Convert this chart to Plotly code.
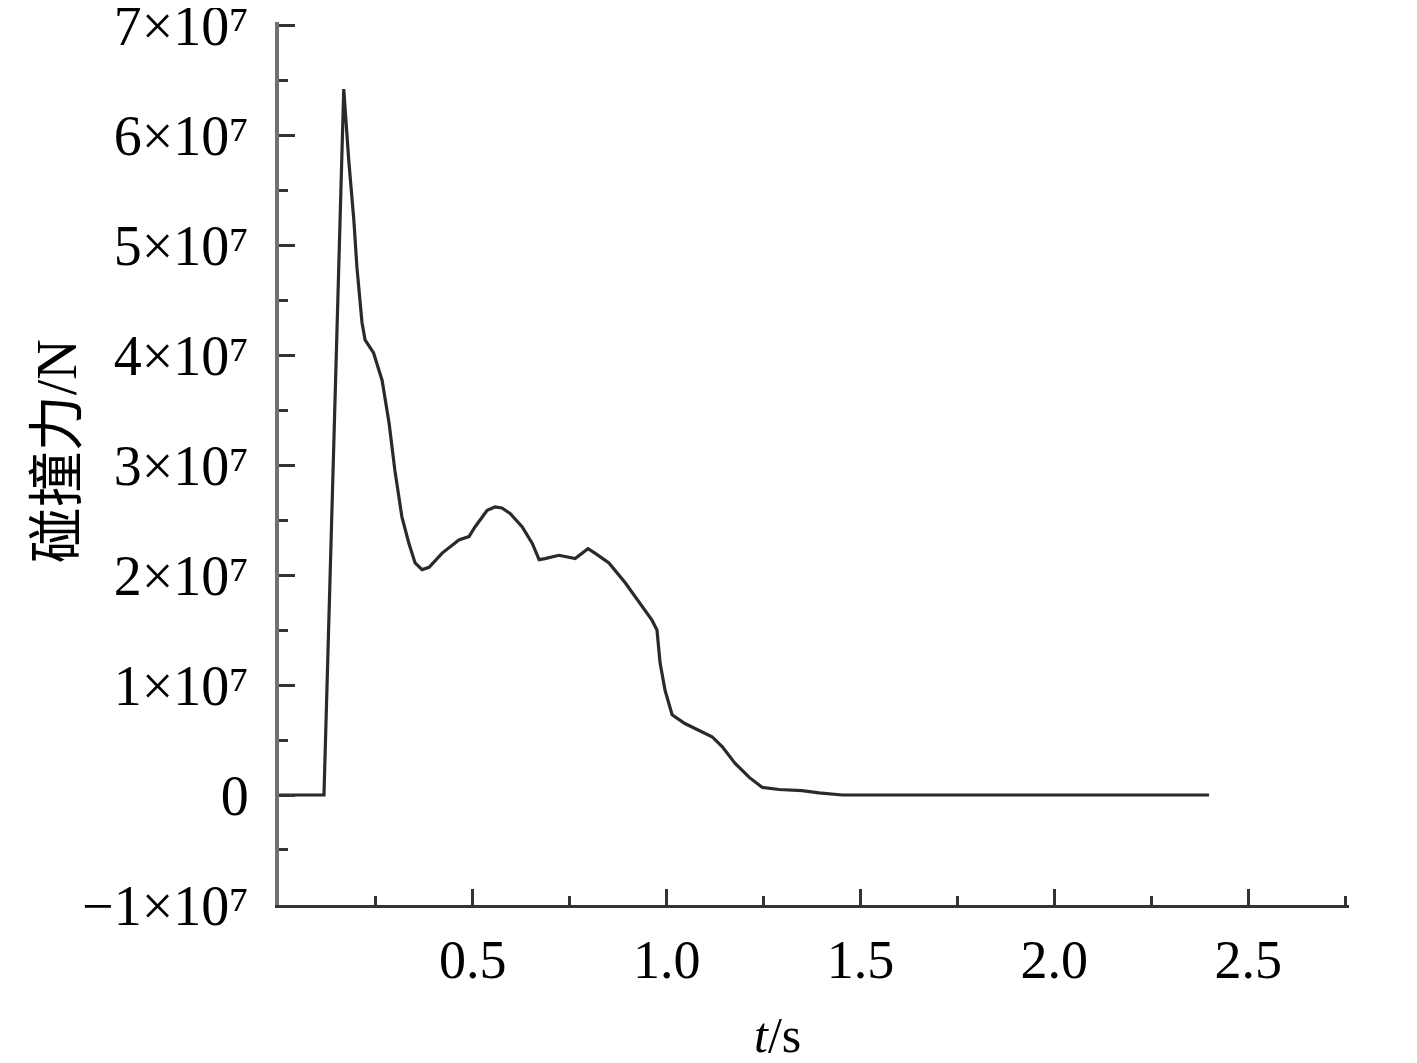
import plotly.graph_objects as go

# time (s) and collision force (N)
t = [0.0, 0.116, 0.167, 0.180, 0.193, 0.201, 0.214, 0.222, 0.244, 0.266, 0.284,
     0.299, 0.317, 0.335, 0.351, 0.369, 0.387, 0.421, 0.464, 0.490, 0.506, 0.537,
     0.557, 0.575, 0.596, 0.627, 0.653, 0.671, 0.686, 0.722, 0.764, 0.797, 0.815,
     0.851, 0.893, 0.937, 0.962, 0.975, 0.983, 0.996, 1.014, 1.047, 1.091, 1.117,
     1.143, 1.176, 1.213, 1.246, 1.290, 1.349, 1.393, 1.453, 2.399]
force_e7 = [0.0, 0.0, 6.42, 5.77, 5.23, 4.80, 4.30, 4.14, 4.02, 3.77, 3.38,
            2.95, 2.53, 2.29, 2.11, 2.05, 2.07, 2.20, 2.32, 2.35, 2.44, 2.59,
            2.62, 2.61, 2.56, 2.44, 2.29, 2.14, 2.15, 2.18, 2.15, 2.24, 2.20,
            2.11, 1.93, 1.71, 1.59, 1.50, 1.20, 0.95, 0.73, 0.65, 0.57, 0.53,
            0.44, 0.29, 0.16, 0.07, 0.05, 0.04, 0.02, 0.0, 0.0]
force = [v * 1e7 for v in force_e7]

x_tickvals = [0.5, 1.0, 1.5, 2.0, 2.5]
x_ticktext = ["0.5", "1.0", "1.5", "2.0", "2.5"]
x_minor = [0.25, 0.75, 1.25, 1.75, 2.25, 2.75]
y_tickvals = [-1e7, 0, 1e7, 2e7, 3e7, 4e7, 5e7, 6e7, 7e7]
y_ticktext = ["\u22121\u00d710\u2077", "0", "1\u00d710\u2077", "2\u00d710\u2077",
              "3\u00d710\u2077", "4\u00d710\u2077", "5\u00d710\u2077",
              "6\u00d710\u2077", "7\u00d710\u2077"]
y_minor = [-0.5e7, 0.5e7, 1.5e7, 2.5e7, 3.5e7, 4.5e7, 5.5e7, 6.5e7]

serif = "Liberation Serif, Times New Roman, serif"

fig = go.Figure()
fig.add_trace(go.Scatter(x=t, y=force, mode="lines",
                         line=dict(color="#2a2a2a", width=3.2), showlegend=False))

fig.update_layout(
    width=1417, height=1063,
    margin=dict(l=271, r=76, t=14, b=166, autoexpand=False),
    paper_bgcolor="white", plot_bgcolor="white",
    font=dict(family=serif, size=54, color="black"),
    xaxis=dict(range=[0, 2.76], showgrid=False, zeroline=False, automargin=False,
               showline=True, linecolor="#333333", linewidth=3,
               tickmode="array", tickvals=x_tickvals, ticktext=x_ticktext,
               ticks="inside", ticklen=16, tickwidth=3, tickcolor="#333333",
               ticklabelstandoff=5, ticklabeloverflow="allow",
               minor=dict(tickmode="array", tickvals=x_minor, ticks="inside",
                          ticklen=9, tickwidth=3, tickcolor="#333333"),
               tickfont=dict(family=serif, size=54, color="black")),
    yaxis=dict(range=[-1.0004e7, 7.03e7], showgrid=False, zeroline=False, automargin=False,
               showline=True, linecolor="#707070", linewidth=4,
               tickmode="array", tickvals=y_tickvals, ticktext=y_ticktext,
               ticks="inside", ticklen=16, tickwidth=3, tickcolor="#333333",
               ticklabelstandoff=15, ticklabeloverflow="allow",
               minor=dict(tickmode="array", tickvals=y_minor, ticks="inside",
                          ticklen=9, tickwidth=3, tickcolor="#333333"),
               tickfont=dict(family=serif, size=56, color="black")),
    annotations=[
        dict(text="<span style='font-family:Noto Sans CJK SC'>碰撞力</span>/N",
             xref="paper", yref="paper", x=-0.213, y=0.514,
             xanchor="center", yanchor="middle", textangle=-90, showarrow=False,
             font=dict(family=serif, size=56, color="black")),
        dict(text="<i>t</i>/s", xref="paper", yref="paper", x=0.466, y=-0.147,
             xanchor="center", yanchor="middle", showarrow=False,
             font=dict(family=serif, size=50, color="black")),
    ],
)

fig.write_html("out.html")
